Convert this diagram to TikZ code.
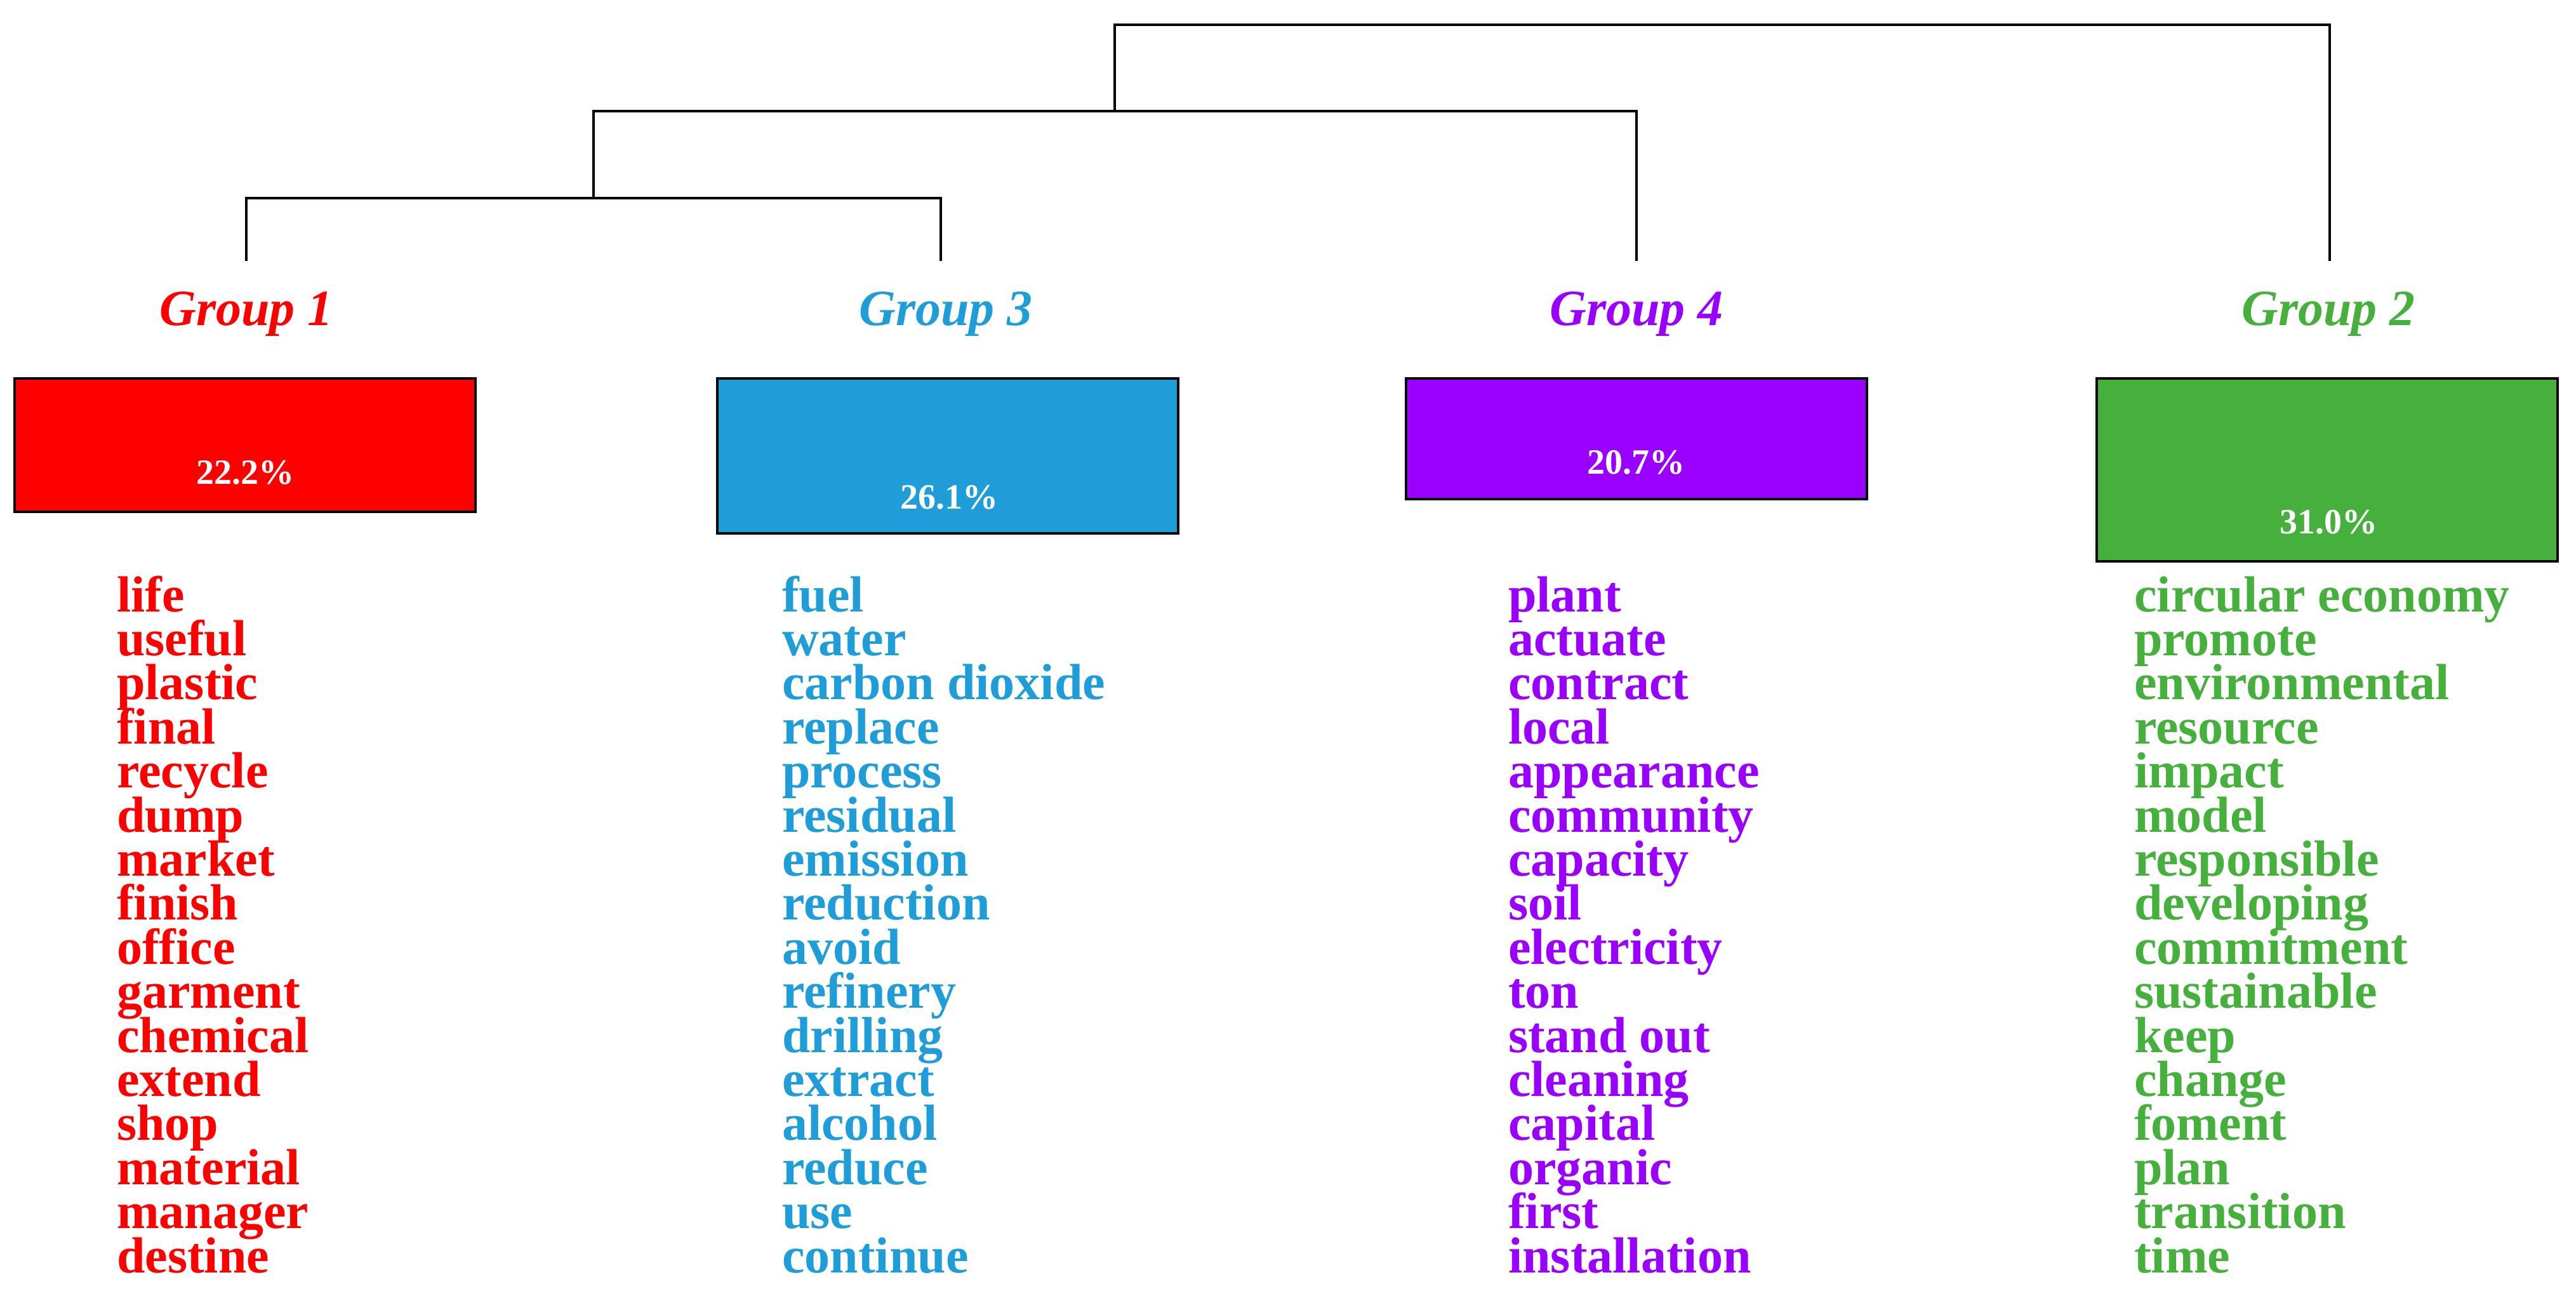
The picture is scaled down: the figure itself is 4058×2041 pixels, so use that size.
\documentclass[tikz,border=0pt]{standalone}
\usepackage{fontspec}
\setmainfont{Liberation Serif}
\definecolor{gred}{HTML}{FF0000}
\definecolor{gblue}{HTML}{1E9DD9}
\definecolor{gpurple}{HTML}{9900FF}
\definecolor{ggreen}{HTML}{45B03B}
\begin{document}
\begin{tikzpicture}[x=1pt,y=-1pt,
  dend/.style={draw=black, line width=4pt},
  gtitle/.style={anchor=base, font=\fontsize{80}{80}\selectfont\bfseries\itshape, inner sep=0pt},
  gbox/.style={draw=black, line width=4pt, anchor=north, minimum width=726pt, inner sep=0pt},
  pct/.style={font=\fontsize{56}{56}\selectfont\bfseries, text=white, inner sep=0pt},
  word/.style={anchor=base west, font=\fontsize{80}{80}\selectfont\bfseries, inner sep=0pt}]
\useasboundingbox (0,0) rectangle (4058,2041);
% group titles
\node[gtitle, text=gred]    (g1) at (388,512)  {Group 1};
\node[gtitle, text=gblue]   (g3) at (1490,512) {Group 3};
\node[gtitle, text=gpurple] (g4) at (2578,512) {Group 4};
\node[gtitle, text=ggreen]  (g2) at (3668,512) {Group 2};
% dendrogram
\coordinate (l1) at (388,411);
\coordinate (l3) at (1482,411);
\coordinate (l4) at (2578,411);
\coordinate (l2) at (3670,411);
\coordinate (j13) at (935,312);
\coordinate (j134) at (1756,175);
\draw[dend] (l1) |- (j13) -| (l3);
\draw[dend] (j13) |- (j134) -| (l4);
\draw[dend] (j134) |- (2700,39) -| (l2);
% boxes
\node[gbox, fill=gred,    minimum height=210pt] (b1) at (386,594)  {};
\node[gbox, fill=gblue,   minimum height=244pt] (b3) at (1493,594) {};
\node[gbox, fill=gpurple, minimum height=190pt] (b4) at (2578,594) {};
\node[gbox, fill=ggreen,  minimum height=288pt] (b2) at (3666,594) {};
\node[pct] (p1) at (386,744)  {22.2\%};
\node[pct] (p3) at (1495,783) {26.1\%};
\node[pct] (p4) at (2577,728) {20.7\%};
\node[pct] (p2) at (3668,822) {31.0\%};
% word lists
\foreach \w [count=\i] in {life,useful,plastic,final,recycle,dump,market,finish,office,garment,chemical,extend,shop,material,manager,destine}
  \node[word, text=gred] (wa\i) at (184,{963+69.4*(\i-1)}) {\w};
\foreach \w [count=\i] in {fuel,water,carbon dioxide,replace,process,residual,emission,reduction,avoid,refinery,drilling,extract,alcohol,reduce,use,continue}
  \node[word, text=gblue] (wc\i) at (1232,{963+69.4*(\i-1)}) {\w};
\foreach \w [count=\i] in {plant,actuate,contract,local,appearance,community,capacity,soil,electricity,ton,stand out,cleaning,capital,organic,first,installation}
  \node[word, text=gpurple] (wd\i) at (2376,{963+69.4*(\i-1)}) {\w};
\foreach \w [count=\i] in {circular economy,promote,environmental,resource,impact,model,responsible,developing,commitment,sustainable,keep,change,foment,plan,transition,time}
  \node[word, text=ggreen] (wb\i) at (3362,{963+69.4*(\i-1)}) {\w};
\end{tikzpicture}
\end{document}
